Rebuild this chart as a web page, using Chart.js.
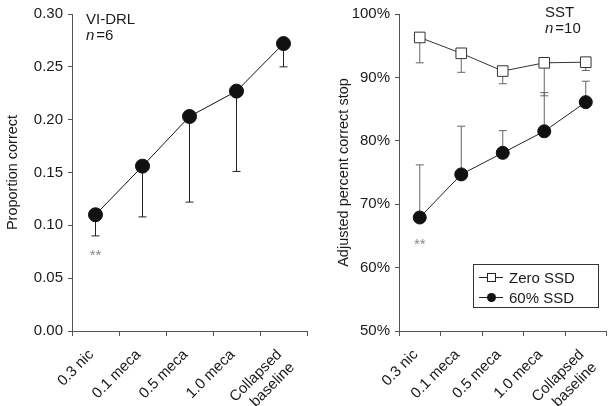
<!DOCTYPE html>
<html>
<head>
<meta charset="utf-8">
<script src="https://cdn.jsdelivr.net/npm/chart.js@4.4.0/dist/chart.umd.min.js"></script>
<style>
  body { margin: 0; background: #fff; }
  #wrap { position: relative; width: 615px; height: 406px; }
  #drlChart { position: absolute; left: 0; top: 0; }
  #sstChart { position: absolute; left: 315px; top: 0; }
</style>
</head>
<body>
<div id="wrap">
  <canvas id="drlChart" width="315" height="406"></canvas>
  <canvas id="sstChart" width="300" height="406"></canvas>
</div>
<script>
const categories = ['0.3 nic', '0.1 meca', '0.5 meca', '1.0 meca', ['Collapsed', 'baseline']];

// VI-DRL panel
const drlProportion = [0.110, 0.156, 0.203, 0.227, 0.272];
const drlErrLow = [0.090, 0.108, 0.122, 0.151, 0.250];

// SST panel
const sstZeroSSD = [96.3, 93.8, 91.0, 92.3, 92.4];
const sstZeroErrLow = [92.3, 90.8, 89.0, 87.1, 91.1];
const sst60SSD = [67.9, 74.7, 78.1, 81.5, 86.1];
const sst60ErrHigh = [76.2, 82.3, 81.6, 87.6, 89.4];

Chart.defaults.font.family = "'Liberation Sans', Arial, sans-serif";
Chart.defaults.color = '#1a1a1a';

// error bars drawn from each dataset's errEnd array, through the chart scales
const errorBars = {
    id: 'errorBars',
    beforeDatasetsDraw(chart) {
        const ctx = chart.ctx;
        const yScale = chart.scales.y;
        chart.data.datasets.forEach((ds, i) => {
            if (!ds.errEnd) return;
            const meta = chart.getDatasetMeta(i);
            ctx.save();
            ctx.strokeStyle = ds.errColor || '#222';
            ctx.lineWidth = 1;
            meta.data.forEach((pt, j) => {
                const yEnd = yScale.getPixelForValue(ds.errEnd[j]);
                ctx.beginPath();
                ctx.moveTo(pt.x, pt.y);
                ctx.lineTo(pt.x, yEnd);
                ctx.moveTo(pt.x - 4, yEnd);
                ctx.lineTo(pt.x + 4, yEnd);
                ctx.stroke();
            });
            ctx.restore();
        });
    }
};

// panel notes: title, n, and ** under first point
const panelNotes = {
    id: 'panelNotes',
    afterDraw(chart, args, opts) {
        const ctx = chart.ctx;
        ctx.save();
        ctx.fillStyle = '#1a1a1a';
        ctx.textBaseline = 'alphabetic';
        ctx.textAlign = 'left';
        ctx.font = "15px 'Liberation Sans', Arial, sans-serif";
        ctx.fillText(opts.title, opts.tx, opts.ty);
        ctx.font = "italic 15px 'Liberation Sans', Arial, sans-serif";
        ctx.fillText('n', opts.tx, opts.ty + 16);
        const w = ctx.measureText('n').width;
        ctx.font = "15px 'Liberation Sans', Arial, sans-serif";
        ctx.fillText(opts.nText, opts.tx + w + 2, opts.ty + 16);

        // ** below the first point
        const pt = chart.getDatasetMeta(opts.starDataset).data[0];
        ctx.fillStyle = '#8a8a8a';
        ctx.textAlign = 'center';
        ctx.font = "15px 'Liberation Sans', Arial, sans-serif";
        ctx.fillText('**', pt.x, pt.y + opts.starDy);
        ctx.restore();
    }
};

// boxed legend inside the SST panel
const boxLegend = {
    id: 'boxLegend',
    afterDraw(chart, args, opts) {
        if (!opts.show) return;
        const ctx = chart.ctx;
        const { x, y, w, h } = opts;
        ctx.save();
        ctx.strokeStyle = '#333';
        ctx.lineWidth = 1;
        ctx.strokeRect(x + 0.5, y + 0.5, w, h);
        chart.data.datasets.forEach((ds, i) => {
            const cy = y + 13.5 + i * 20;
            ctx.strokeStyle = '#222';
            ctx.beginPath();
            ctx.moveTo(x + 6, cy);
            ctx.lineTo(x + 30, cy);
            ctx.stroke();
            if (ds.pointStyle === 'rect') {
                ctx.fillStyle = '#fff';
                ctx.fillRect(x + 14.5, cy - 4, 8, 8);
                ctx.strokeRect(x + 14.5, cy - 4, 8, 8);
            } else {
                ctx.fillStyle = '#111';
                ctx.beginPath();
                ctx.arc(x + 18.5, cy, 4.5, 0, Math.PI * 2);
                ctx.fill();
            }
            ctx.fillStyle = '#1a1a1a';
            ctx.font = "15px 'Liberation Sans', Arial, sans-serif";
            ctx.textAlign = 'left';
            ctx.textBaseline = 'middle';
            ctx.fillText(ds.label, x + 36, cy + 1);
        });
        ctx.restore();
    }
};

function xAxis() {
    return {
        offset: true,
        border: { color: '#555', width: 1 },
        grid: { offset: true, drawOnChartArea: false, tickLength: 5, color: '#555' },
        ticks: {
            autoSkip: false, minRotation: 45, maxRotation: 45,
            padding: 10, labelOffset: -4,
            font: { size: 15 }, color: '#1a1a1a'
        },
        afterFit: s => {
            s.height = 75;
            s.paddingLeft = 0;
            s.paddingRight = 0;
        }
    };
}

const drlChart = new Chart(document.getElementById('drlChart'), {
    type: 'line',
    data: {
        labels: categories,
        datasets: [{
            label: 'VI-DRL',
            data: drlProportion,
            errEnd: drlErrLow,
            errColor: '#222',
            borderColor: '#111',
            borderWidth: 1,
            pointStyle: 'circle',
            pointRadius: 7,
            pointBackgroundColor: '#111',
            pointBorderColor: '#111',
            tension: 0
        }]
    },
    options: {
        responsive: false,
        animation: false,
        devicePixelRatio: 1,
        layout: { padding: { top: 11, right: 7, left: 0, bottom: 0 } },
        plugins: {
            legend: { display: false },
            tooltip: { enabled: false },
            panelNotes: { title: 'VI-DRL', nText: '=6', tx: 86, ty: 24, starDataset: 0, starDy: 45 }
        },
        scales: {
            x: xAxis(),
            y: {
                min: 0, max: 0.3,
                border: { color: '#555', width: 1 },
                grid: { drawOnChartArea: false, tickLength: 4, color: '#555' },
                ticks: { stepSize: 0.05, padding: 5, font: { size: 15 }, color: '#1a1a1a',
                         callback: v => v.toFixed(2) },
                title: { display: true, text: 'Proportion correct', font: { size: 14.5 },
                         padding: { top: 4, bottom: 0 }, color: '#1a1a1a' },
                afterFit: s => { s.width = 72; }
            }
        }
    },
    plugins: [errorBars, panelNotes]
});

const sstChart = new Chart(document.getElementById('sstChart'), {
    type: 'line',
    data: {
        labels: categories,
        datasets: [{
            label: 'Zero SSD',
            data: sstZeroSSD,
            errEnd: sstZeroErrLow,
            errColor: '#666',
            borderColor: '#333',
            borderWidth: 1,
            pointStyle: 'rect',
            pointRadius: 7.5,
            pointBackgroundColor: '#fff',
            pointBorderColor: '#333',
            pointBorderWidth: 1,
            tension: 0
        }, {
            label: '60% SSD',
            data: sst60SSD,
            errEnd: sst60ErrHigh,
            errColor: '#666',
            borderColor: '#222',
            borderWidth: 1,
            pointStyle: 'circle',
            pointRadius: 6.5,
            pointBackgroundColor: '#111',
            pointBorderColor: '#111',
            tension: 0
        }]
    },
    options: {
        responsive: false,
        animation: false,
        devicePixelRatio: 1,
        layout: { padding: { top: 12, right: 6, left: 0, bottom: 0 } },
        plugins: {
            legend: { display: false },
            tooltip: { enabled: false },
            panelNotes: { title: 'SST', nText: '=10', tx: 230, ty: 17, starDataset: 1, starDy: 31 },
            boxLegend: { show: true, x: 158, y: 264, w: 125, h: 43 }
        },
        scales: {
            x: xAxis(),
            y: {
                min: 50, max: 100,
                border: { color: '#555', width: 1 },
                grid: { drawOnChartArea: false, tickLength: 4, color: '#555' },
                ticks: { stepSize: 10, padding: 5, font: { size: 15 }, color: '#1a1a1a',
                         callback: v => v + '%' },
                title: { display: true, text: 'Adjusted percent correct stop', font: { size: 14.5 },
                         padding: { top: 20, bottom: 0 }, color: '#1a1a1a' },
                afterFit: s => { s.width = 84; }
            }
        }
    },
    plugins: [errorBars, panelNotes, boxLegend]
});
</script>
</body>
</html>
